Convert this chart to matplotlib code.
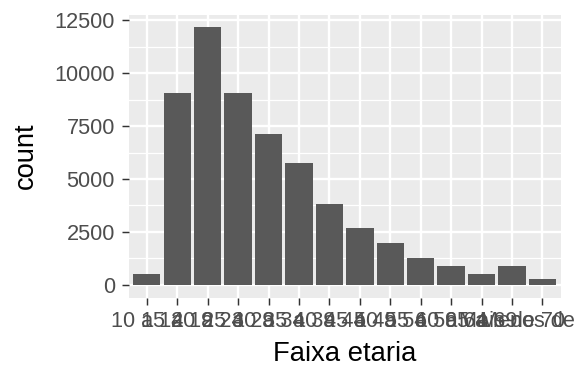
import matplotlib
matplotlib.use("Agg")
import matplotlib.pyplot as plt
import numpy as np

categories = ["10 a 14", "15 a 19", "20 a 24", "25 a 29", "30 a 34", "35 a 39",
              "40 a 44", "45 a 49", "50 a 54", "55 a 59", "60 a 64", "65 a 69",
              "Mais de 70", "Menos de 10"]
counts = [520, 9060, 12170, 9060, 7120, 5750, 3820, 2690, 1980, 1270, 900, 520, 900, 285]
yticks = [0, 2500, 5000, 7500, 10000, 12500]
yminor = [1250, 3750, 6250, 8750, 11250]

plt.rcParams['font.family'] = ['Liberation Sans', 'DejaVu Sans']

W, H = 576, 384
fig = plt.figure(figsize=(6, 4), dpi=96)
left, right, top, bottom = 128.5, 560.7, 14.5, 297.5
ax = fig.add_axes([left / W, 1 - bottom / H, (right - left) / W, (bottom - top) / H])
ax.set_facecolor('#EBEBEB')

x = np.arange(len(categories))
ax.bar(x, counts, width=0.9, color='#595959', zorder=3)
ax.set_xlim(-0.6, len(categories) - 1 + 0.6)
ymax = max(counts)
ax.set_ylim(-0.05 * ymax, 1.05 * ymax)

ax.set_xticks(x)
ax.set_xticklabels(categories)
ax.set_yticks(yticks)
ax.set_yticklabels([str(v) for v in yticks])
ax.set_yticks(yminor, minor=True)

ax.grid(which='major', axis='both', color='white', linewidth=1.8, zorder=0)
ax.grid(which='minor', axis='y', color='white', linewidth=0.9, zorder=0)
ax.set_axisbelow(True)
for s in ax.spines.values():
    s.set_visible(False)

ax.tick_params(axis='both', which='major', length=5.2, width=1.1, color='#333333',
               labelsize=16.3, labelcolor='#4D4D4D', pad=5)
ax.tick_params(axis='y', which='minor', length=0)

ax.set_xlabel('Faixa etaria', fontsize=20.5, color='black', labelpad=7)
ax.set_ylabel('count', fontsize=20.5, color='black', labelpad=12)

fig.savefig('out.png', dpi=96)
